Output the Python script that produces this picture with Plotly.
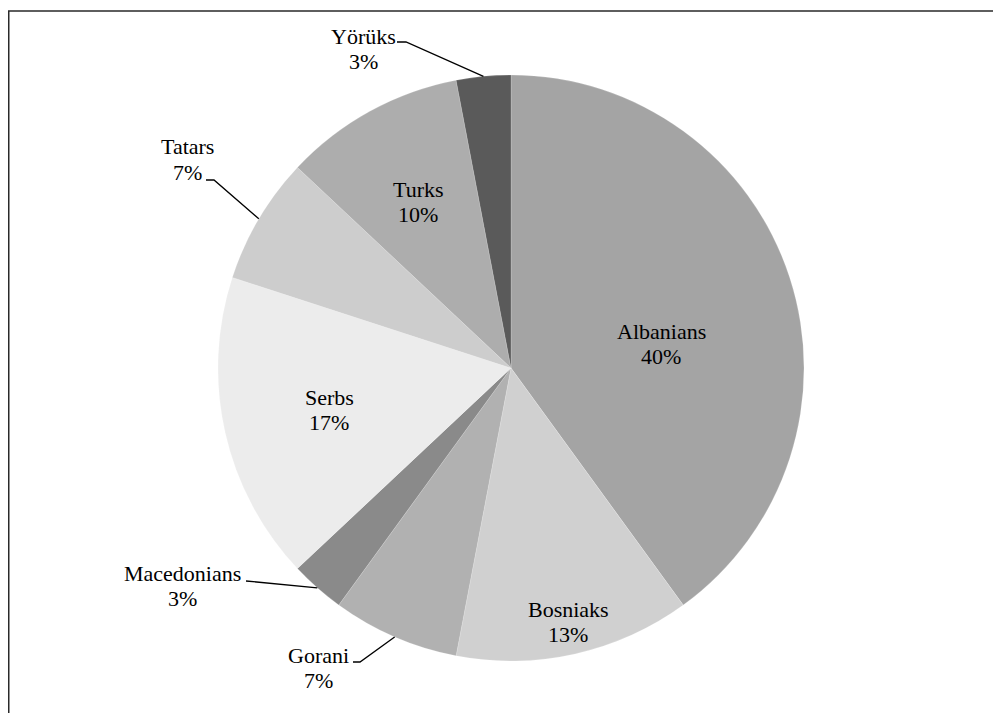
import math
import plotly.graph_objects as go

# ---- data ----
groups = ["Albanians", "Bosniaks", "Gorani", "Macedonians", "Serbs", "Tatars", "Turks", "Yörüks"]
shares = [40, 13, 7, 3, 17, 7, 10, 3]
colors = ["#a4a4a4", "#d0d0d0", "#b1b1b1", "#8a8a8a", "#ececec", "#cdcdcd", "#adadad", "#5a5a5a"]

# ---- layout constants (screen pixels; page body has an 8px margin) ----
OFF = 8
W, H = 1001 - 2 * OFF, 721 - 2 * OFF
CX, CY, R = 511, 368, 293
FONT = "Liberation Serif, Times New Roman, serif"
FS = 22
LINE_GAP = 25.5
# name-line centre of each label
label_xy = {
    "Albanians": (661, 331),
    "Bosniaks": (568, 609),
    "Gorani": (318, 655),
    "Macedonians": (182, 573),
    "Serbs": (329, 397),
    "Tatars": (187, 147),
    "Turks": (418, 189),
    "Yörüks": (363, 36),
}
# leader lines for outside labels: start point and elbow length
leader = {
    "Yörüks": ((397, 42), 9),
    "Tatars": ((206, 180), 8),
    "Macedonians": ((246, 581), 0),
    "Gorani": ((353, 662), 7),
}


def px(x):
    return (x - OFF) / W


def py(y):
    return 1 - (y - OFF) / H


fig = go.Figure()
fig.add_trace(go.Pie(
    labels=groups,
    values=shares,
    sort=False,
    direction="clockwise",
    rotation=0,
    marker=dict(colors=colors, line=dict(color="rgba(255,255,255,0.35)", width=0.5)),
    textinfo="none",
    hoverinfo="label+percent",
    showlegend=False,
    domain=dict(x=[px(CX - R), px(CX + R)], y=[py(CY + R), py(CY - R)]),
))

total = sum(shares)
cum = 0
annotations = []
shapes = []
for g, v in zip(groups, shares):
    mid = (cum + v / 2) / total * 2 * math.pi
    cum += v
    pct = f"{round(v / total * 100)}%"
    lx, ly = label_xy[g]
    annotations.append(dict(x=px(lx), y=py(ly), xref="paper", yref="paper", text=g,
                            showarrow=False, xanchor="center", yanchor="middle",
                            font=dict(family=FONT, size=FS, color="#000")))
    annotations.append(dict(x=px(lx), y=py(ly + LINE_GAP), xref="paper", yref="paper", text=pct,
                            showarrow=False, xanchor="center", yanchor="middle",
                            font=dict(family=FONT, size=FS, color="#000")))
    if g in leader:
        (sx, sy), el = leader[g]
        ex = CX + R * math.sin(mid)
        ey = CY - R * math.cos(mid)
        path = f"M {px(sx)} {py(sy)} L {px(sx + el)} {py(sy)} L {px(ex)} {py(ey)}"
        shapes.append(dict(type="path", path=path, xref="paper", yref="paper",
                           line=dict(color="#000", width=1.3)))

# chart frame (top and left edges visible)
shapes.append(dict(type="rect", xref="paper", yref="paper",
                   x0=px(8.75), y0=py(760), x1=px(1040), y1=py(11),
                   line=dict(color="#2a2a2a", width=1.5), fillcolor="rgba(0,0,0,0)"))

fig.update_layout(
    width=W, height=H,
    margin=dict(l=0, r=0, t=0, b=0),
    paper_bgcolor="white",
    plot_bgcolor="white",
    font=dict(family=FONT),
    annotations=annotations,
    shapes=shapes,
)

fig.write_html("out.html")
